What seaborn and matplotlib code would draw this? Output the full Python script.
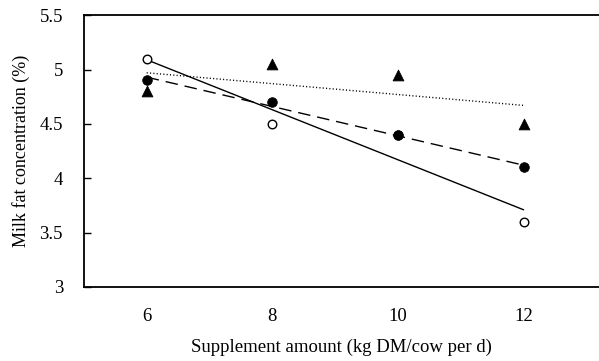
import matplotlib
matplotlib.use("Agg")
import matplotlib.pyplot as plt
import seaborn as sns
import pandas as pd
from matplotlib.ticker import FixedLocator, NullFormatter, FixedFormatter

sns.set_theme(style="white")
plt.rcParams['font.family'] = ['Liberation Serif', 'DejaVu Serif']

supplement = [6, 8, 10, 12]
open_circles = [5.1, 4.5, 4.4, 3.6]
filled_circles = [4.9, 4.7, 4.4, 4.1]
triangles = [4.8, 5.05, 4.95, 4.5]

trend_x = [6, 12]
trend_open = [5.09, 3.71]
trend_filled = [4.93, 4.12]
trend_tri = [4.97, 4.67]

fig = plt.figure(figsize=(5.99, 3.61), dpi=100)
ax = fig.add_axes([0.140, 0.205, 0.860, 0.753])

# trend lines
sns.lineplot(x=trend_x, y=trend_open, ax=ax, color='black', lw=1.0, linestyle='-')
sns.lineplot(x=trend_x, y=trend_filled, ax=ax, color='black', lw=1.0)
ax.lines[-1].set_dashes([9, 5])
sns.lineplot(x=trend_x, y=trend_tri, ax=ax, color='black', lw=1.0)
ax.lines[-1].set_dashes([0.8, 1.6])

# points
df_o = pd.DataFrame({'x': supplement, 'y': open_circles})
df_f = pd.DataFrame({'x': supplement, 'y': filled_circles})
df_t = pd.DataFrame({'x': supplement, 'y': triangles})
sns.scatterplot(data=df_o, x='x', y='y', ax=ax, marker='o', s=38,
                facecolor='white', edgecolor='black', linewidth=1.0, zorder=3)
sns.scatterplot(data=df_f, x='x', y='y', ax=ax, marker='o', s=48,
                color='black', edgecolor='black', zorder=4)
sns.scatterplot(data=df_t, x='x', y='y', ax=ax, marker='^', s=60,
                color='black', edgecolor='black', zorder=4)

ax.set_xlim(5.0, 13.2)
ax.set_ylim(3, 5.5)

ax.xaxis.set_major_locator(FixedLocator([7, 9, 11]))
ax.xaxis.set_major_formatter(NullFormatter())
ax.xaxis.set_minor_locator(FixedLocator(supplement))
ax.xaxis.set_minor_formatter(FixedFormatter([str(v) for v in supplement]))
ax.tick_params(axis='x', which='major', direction='in', length=5, width=1, color='black')
ax.tick_params(axis='x', which='minor', length=0, labelsize=13.5, pad=15, labelcolor='black')

yt = [3, 3.5, 4, 4.5, 5, 5.5]
ax.set_yticks(yt)
ax.set_yticklabels(['3', '3.5', '4', '4.5', '5', '5.5'])
ax.tick_params(axis='y', direction='in', length=5, width=1, color='black',
               labelsize=13.5, pad=15, labelcolor='black', left=True)

for side in ['left', 'bottom', 'top']:
    ax.spines[side].set_color('black')
    ax.spines[side].set_linewidth(1.3)
ax.spines['right'].set_visible(False)

ax.set_xlabel('Supplement amount (kg DM/cow per d)', fontsize=13.5, color='black', labelpad=10)
ax.set_ylabel('Milk fat concentration (%)', fontsize=13, color='black', labelpad=7)

fig.savefig('out.png', dpi=100)
